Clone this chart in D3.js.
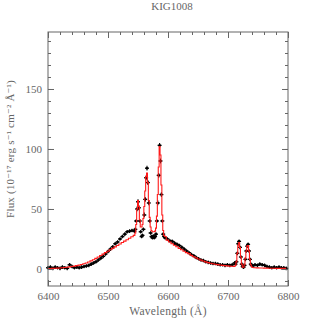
<!DOCTYPE html>
<html><head><meta charset="utf-8">
<script src="https://cdn.jsdelivr.net/npm/d3@7"></script>
<style>body{margin:0;background:#fff}svg{display:block}</style>
</head><body>
<script>
// Observed spectrum (wavelength in Å, flux in 1e-17 erg/s/cm2/Å)
const wave = [
6400,6404,6408,6412,6416,6420,6424,6428,6432,6436,6440,6444,6448,6452,6456,6460,6464,6468,6472,6476,6480,6484,6488,6492,6496,6500,6504,6508,6512,6516,6520,6524,6528,6532,6536,6540,6544,
6545.5,6547,6548.5,6550,6551.5,6553,6554.5,6556,6557.5,6559,6560.5,6562,6563.5,6565,6566.5,6568,6569.5,6571,6572.5,6574,6575.5,6577,6578.5,6580,6581.5,6583,6584.5,6586,6587.5,6589,6590.5,6592,6593.5,6595,
6599,6603,6607,6611,6615,6619,6623,6627,6631,6635,6639,6643,6647,6651,6655,6659,6663,6667,6671,6675,6679,6683,6687,6691,6695,6699,6703,6707,6711,
6712.5,6714,6715.5,6717,6718.5,6720,6721.5,6723,6724.5,6726,6727.5,6729,6730.5,6732,6733.5,6735,6736.5,6738,6739.5,6741,
6745,6749,6753,6757,6761,6765,6769,6773,6777,6781,6785,6789,6793,6797];
const flux = [
1,1.5,0.5,1.5,1,0.5,1.5,1,0.5,3.5,2,1,1.5,1,1.5,2,2.5,3,4,5,6,7.5,9,10.5,12.5,14.5,16.5,18.5,21,22.5,25,27,29,31,31.5,32,31.5,
33,40,50,56,51,40,31,27,28,33,45,58,76,84,72,55,40,30,27,26,27.5,26,27,29,40,55,78,103,90,62,40,29,27,26,
25,23.5,23,21.5,20.5,19.5,18,16.5,15,13.5,12,11,9.5,8.5,7.5,7,6,5.5,5,4.5,4.5,4,3.5,3.5,3,3.5,3,3.5,5,
4,6,13,21,23,18,10,4,2,1.5,3,8,15,19,20.5,15,8,4,3,2.5,
3.5,3,4,3.5,3,2,1.5,1,1.5,1,1.5,1,1,0.5];
const fluxErr = [
1.5,1.5,1.5,1.5,1.5,1.5,1.5,1.5,1.5,1.5,1.5,1.5,1.5,1.5,1.5,1.5,1.5,1.5,1.5,1.5,1.5,1.5,1.5,1.5,1.5,1.5,1.5,1.5,1.5,1.5,1.5,1.5,1.5,1.5,1.5,1.5,1.5,
1.5,1.5,2,2,2,1.5,1.5,1.5,1.5,1.5,2,2,2,2,2,2,1.5,1.5,1.5,1.5,1.5,1.5,1.5,1.5,1.5,2,2,2,2,2,1.5,1.5,1.5,1.5,
1.5,1.5,1.5,1.5,1.5,1.5,1.5,1.5,1.5,1.5,1.5,1.5,1.5,1.5,1.5,1.5,1.5,1.5,1.5,1.5,1.5,1.5,1.5,1.5,1.5,1.5,1.5,1.5,1.5,
1.5,1.5,1.5,1.5,1.5,1.5,1.5,1.5,1.5,1.5,1.5,1.5,1.5,1.5,1.5,1.5,1.5,1.5,1.5,1.5,
1.5,1.5,1.5,1.5,1.5,1.5,1.5,1.5,1.5,1.5,1.5,1.5,1.5,1.5];
// Fitted model (same wavelengths)
const model = [
0.3,0.4,0.5,0.6,0.7,0.8,1,1.2,1.4,1.7,2,2.4,2.8,3.2,3.7,4.3,5,5.8,6.7,7.7,8.8,10,11.2,12.4,13.6,14.8,16,17.2,18.4,19.6,20.8,22,23.2,24.4,25.6,26.8,28,
30,37,50,57,52,41,35,35,37,42,52,65,77,80,72,57,43,35,32,31,31,31,31.5,34,44,62,85,102,95,70,45,32,28,27,
24,22.5,21,19.8,18.5,17.2,16,14.8,13.6,12.8,11.3,10.2,9.2,8.3,7.4,6.6,5.9,5.3,4.8,4.3,3.9,3.6,3.3,3,2.8,2.6,2.4,2.2,2.1,
3,6,13,20,22,18,10,4,1.5,1.5,3.5,9,15,19,19.5,15,8,3.5,1.8,1.2,
1,0.9,0.8,0.8,0.7,0.7,0.6,0.6,0.6,0.5,0.5,0.5,0.5,0.5];

const title = "KIG1008";
const xLabel = "Wavelength (Å)";
const yLabel = "Flux (10⁻¹⁷ erg s⁻¹ cm⁻² Å⁻¹)";
const xMajor = [6400,6500,6600,6700,6800];
const yMajor = [0,50,100,150];

const W = 319, H = 319;
const m = {l:48, r:31, t:32, b:33};
const x = d3.scaleLinear().domain([6400,6800]).range([m.l, W-m.r]);
const y = d3.scaleLinear().domain([-14.2,197.5]).range([H-m.b, m.t]);

const svg = d3.select("body").append("svg").attr("width",W).attr("height",H);
const axCol = "#666", txtCol = "#666";
const font = "Liberation Serif, DejaVu Serif, serif";

// data
const pts = wave.map((w,i)=>({w, f:flux[i], e:fluxErr[i], mo:model[i]}));
const g = svg.append("g");
g.selectAll("line.err").data(pts).join("line")
  .attr("x1",d=>x(d.w)).attr("x2",d=>x(d.w))
  .attr("y1",d=>y(d.f-d.e)).attr("y2",d=>y(d.f+d.e))
  .attr("stroke","#000").attr("stroke-width",1.1);
g.selectAll("line.h").data(pts).join("line")
  .attr("x1",d=>x(d.w)-2).attr("x2",d=>x(d.w)+2)
  .attr("y1",d=>y(d.f)).attr("y2",d=>y(d.f))
  .attr("stroke","#000").attr("stroke-width",1.3);
g.selectAll("circle").data(pts).join("circle")
  .attr("cx",d=>x(d.w)).attr("cy",d=>y(d.f)).attr("r",1.3).attr("fill","#000");

const line = d3.line().x(d=>x(d.w)).y(d=>y(d.mo)).curve(d3.curveStep);
svg.append("path").datum(pts).attr("d",line)
  .attr("fill","none").attr("stroke","#ff1a1a").attr("stroke-width",1.1);

// axes: frame with inward ticks on all sides
const fr = svg.append("g");
fr.append("rect").attr("x",m.l).attr("y",m.t).attr("width",W-m.l-m.r).attr("height",H-m.t-m.b)
  .attr("fill","none").attr("stroke",axCol).attr("stroke-width",1);

const axB = d3.axisBottom(x).tickValues(d3.range(6400,6801,20)).tickSize(-3).tickFormat("");
const axT = d3.axisTop(x).tickValues(d3.range(6400,6801,20)).tickSize(-3).tickFormat("");
const axL = d3.axisLeft(y).tickValues(d3.range(-10,191,10)).tickSize(-3).tickFormat("");
const axR = d3.axisRight(y).tickValues(d3.range(-10,191,10)).tickSize(-3).tickFormat("");
const axBM = d3.axisBottom(x).tickValues(xMajor).tickSize(-6).tickFormat(d3.format("d")).tickPadding(6);
const axTM = d3.axisTop(x).tickValues(xMajor).tickSize(-6).tickFormat("");
const axLM = d3.axisLeft(y).tickValues(yMajor).tickSize(-6).tickFormat(d3.format("d")).tickPadding(6);
const axRM = d3.axisRight(y).tickValues(yMajor).tickSize(-6).tickFormat("");

function put(ax, tr){
  const a = svg.append("g").attr("transform",tr).call(ax);
  a.select(".domain").remove();
  a.selectAll("line").attr("stroke",axCol);
  a.selectAll("text").attr("fill",txtCol).style("font-family",font).style("font-size","11px");
  return a;
}
put(axB, `translate(0,${H-m.b})`);
put(axT, `translate(0,${m.t})`);
put(axL, `translate(${m.l},0)`);
put(axR, `translate(${W-m.r},0)`);
put(axBM, `translate(0,${H-m.b})`);
put(axTM, `translate(0,${m.t})`);
put(axLM, `translate(${m.l},0)`);
put(axRM, `translate(${W-m.r},0)`);

svg.append("text").attr("x",172).attr("y",10).attr("text-anchor","middle")
  .attr("fill",txtCol).style("font-family",font).style("font-size","11px").text(title);
svg.append("text").attr("x",168).attr("y",315).attr("text-anchor","middle")
  .attr("fill",txtCol).style("font-family",font).style("font-size","11.5px").style("letter-spacing","0.3px").text(xLabel);
svg.append("text").attr("transform","translate(14,149) rotate(-90)").attr("text-anchor","middle")
  .attr("fill",txtCol).style("font-family",font).style("font-size","11px").style("letter-spacing","0.2px").text(yLabel);
</script>
</body></html>
